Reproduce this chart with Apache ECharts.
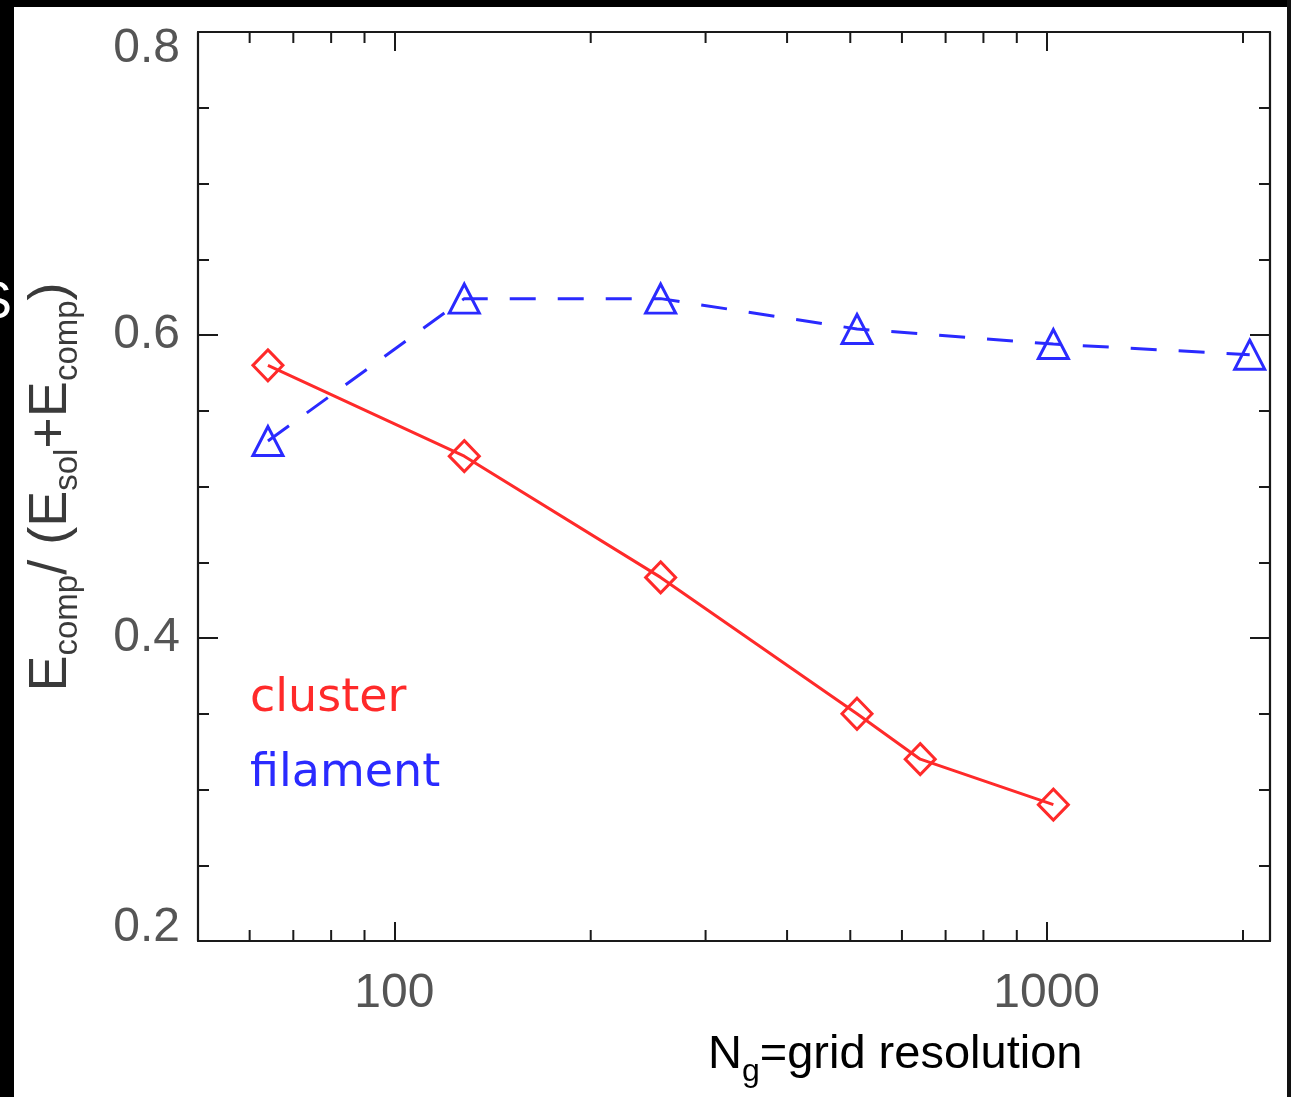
<!DOCTYPE html>
<html><head><meta charset="utf-8">
<script src="https://cdn.jsdelivr.net/npm/echarts@6/dist/echarts.min.js"></script>
<style>html,body{margin:0;padding:0;background:#fff}#c{width:1291px;height:1097px}</style>
</head><body><div id="c"></div>
<script>
// ---- data ----
const clusterN = [64, 128, 256, 512, 640, 1024];
const clusterE = [0.580, 0.520, 0.440, 0.350, 0.320, 0.290];
const filamentN = [64, 128, 256, 512, 1024, 2048];
const filamentE = [0.530, 0.624, 0.624, 0.604, 0.594, 0.587];
const xTickLabels = [100, 1000];
const xMinorTicks = [60, 70, 80, 90, 200, 300, 400, 500, 600, 700, 800, 900, 2000];
const yTickLabels = [0.2, 0.4, 0.6, 0.8];
const xMin = 50, xMax = 2200, yMin = 0.2, yMax = 0.8;

const AX = '#1a1a1a';
const RED = '#ff2a2a';
const BLUE = '#2a2aff';
const LBL = '#555555';

const chart = echarts.init(document.getElementById('c'), null, {renderer: 'canvas'});

function xAxisCfg(pos, showLabel) {
  return {
    type: 'log', logBase: 10, min: xMin, max: xMax, position: pos,
    axisLine: {show: true, lineStyle: {color: AX, width: 2.2}},
    axisTick: {show: true, inside: true, length: 19, lineStyle: {color: AX, width: 2}},
    splitLine: {show: false},
    axisLabel: {
      show: showLabel, margin: 29, color: LBL, fontSize: 48, fontFamily: 'Liberation Sans',
      formatter: v => (xTickLabels.some(t => Math.abs(t - v) < 1e-6 * t) ? String(Math.round(v)) : '')
    }
  };
}
function yAxisCfg(pos, showLabel) {
  const base = {fontSize: 48, fontFamily: 'Liberation Sans', color: LBL};
  return {
    type: 'value', min: yMin, max: yMax, interval: 0.2, position: pos,
    axisLine: {show: true, lineStyle: {color: AX, width: 2.2}},
    axisTick: {show: true, inside: true, length: 20, lineStyle: {color: AX, width: 2}},
    minorTick: {show: true, splitNumber: 4, length: 11, lineStyle: {color: AX, width: 2}},
    splitLine: {show: false},
    axisLabel: {
      show: showLabel, margin: 18, color: LBL, fontSize: 48, fontFamily: 'Liberation Sans',
      formatter: v => {
        const s = (Math.round(v * 10) / 10).toFixed(1);
        const i = yTickLabels.findIndex(t => Math.abs(t - v) < 1e-9);
        if (i === yTickLabels.length - 1) return '{t|' + s + '}';
        if (i === 0) return '{b|' + s + '}';
        return s;
      },
      rich: {
        t: Object.assign({padding: [33, 0, 0, 0]}, base),
        b: Object.assign({padding: [0, 0, 26, 0]}, base)
      }
    }
  };
}

const option = {
  animation: false,
  backgroundColor: '#fff',
  grid: {left: 198, top: 32, right: 21, bottom: 156, containLabel: false},
  xAxis: [xAxisCfg('bottom', true), xAxisCfg('top', false)],
  yAxis: [yAxisCfg('left', true), yAxisCfg('right', false)],
  series: [
    {
      type: 'custom', xAxisIndex: 0, yAxisIndex: 0, silent: true, clip: false, z: 5,
      data: xMinorTicks.map(v => [v, yMin]),
      renderItem: (params, api) => {
        const v = api.value(0);
        const b = api.coord([v, yMin]);
        const t = api.coord([v, yMax]);
        return {type: 'group', children: [
          {type: 'line', shape: {x1: b[0], y1: b[1], x2: b[0], y2: b[1] - 11}, style: {stroke: AX, lineWidth: 2}},
          {type: 'line', shape: {x1: t[0], y1: t[1], x2: t[0], y2: t[1] + 11}, style: {stroke: AX, lineWidth: 2}}
        ]};
      }
    },
    {
      name: 'filament', type: 'line', xAxisIndex: 0, yAxisIndex: 0,
      data: filamentN.map((n, i) => [n, filamentE[i]]),
      symbol: 'triangle', symbolSize: [30, 29], showSymbol: true,
      lineStyle: {color: BLUE, width: 3, type: [26, 22]},
      itemStyle: {color: 'rgba(0,0,0,0)', borderColor: BLUE, borderWidth: 3},
      z: 3
    },
    {
      name: 'cluster', type: 'line', xAxisIndex: 0, yAxisIndex: 0,
      data: clusterN.map((n, i) => [n, clusterE[i]]),
      symbol: 'diamond', symbolSize: [30, 31], showSymbol: true,
      lineStyle: {color: RED, width: 3},
      itemStyle: {color: 'rgba(0,0,0,0)', borderColor: RED, borderWidth: 3},
      z: 4
    }
  ],
  graphic: [
    {type: 'rect', shape: {x: 0, y: 0, width: 1291, height: 7}, style: {fill: '#000'}, z: 10},
    {type: 'rect', shape: {x: 0, y: 0, width: 14, height: 1097}, style: {fill: '#000'}, z: 10},
    {type: 'rect', shape: {x: 1287, y: 0, width: 4, height: 1097}, style: {fill: '#111'}, z: 10},
    {type: 'text', x: 12, y: 304, z: 11, style: {text: 'S', fill: '#fff', fontSize: 52, fontFamily: 'Liberation Sans', align: 'right', verticalAlign: 'middle'}},
    {type: 'text', x: 250, y: 699, z: 11, style: {text: 'cluster', fill: RED, fontSize: 46, fontFamily: 'DejaVu Sans', align: 'left', verticalAlign: 'middle'}},
    {type: 'text', x: 250, y: 774, z: 11, style: {text: 'filament', fill: BLUE, fontSize: 46, fontFamily: 'DejaVu Sans', align: 'left', verticalAlign: 'middle'}},
    {type: 'text', x: 708, y: 1055, z: 11, style: {
      text: '{m|N}{s|g}{m|=grid resolution}', align: 'left', verticalAlign: 'middle',
      rich: {
        m: {fontSize: 47, fontFamily: 'Liberation Sans', fill: '#000', lineHeight: 66},
        s: {fontSize: 32, fontFamily: 'Liberation Sans', fill: '#000', verticalAlign: 'bottom'}
      }
    }},
    {type: 'text', x: 51, y: 487, rotation: Math.PI / 2, z: 11, style: {
      text: '{m|E}{s|comp}{m|/ (E}{s|sol}{m|+E}{s|comp}{m|)}', align: 'center', verticalAlign: 'middle',
      rich: {
        m: {fontSize: 54, fontFamily: 'Liberation Sans', fill: '#3a3a3a', lineHeight: 66},
        s: {fontSize: 33, fontFamily: 'Liberation Sans', fill: '#3a3a3a', verticalAlign: 'bottom'}
      }
    }}
  ]
};
chart.setOption(option);
</script>
</body></html>
